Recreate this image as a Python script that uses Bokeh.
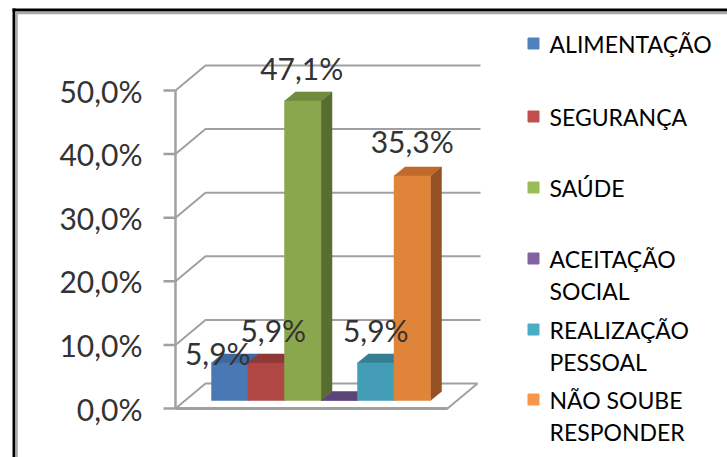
from bokeh.plotting import figure
from bokeh.models import Range1d
from bokeh.core.properties import value
from bokeh.embed import file_html
from bokeh.resources import INLINE

# ---------------- data ----------------
categories = ["ALIMENTAÇÃO", "SEGURANÇA", "SAÚDE", "ACEITAÇÃO\nSOCIAL",
              "REALIZAÇÃO\nPESSOAL", "NÃO SOUBE\nRESPONDER"]
values = [5.9, 5.9, 47.1, 0.0, 5.9, 35.3]
y_ticks = [0, 10, 20, 30, 40, 50]
y_tick_labels = ["0,0%", "10,0%", "20,0%", "30,0%", "40,0%", "50,0%"]

# ---------------- styles ----------------
front_colors = ["#4A78B4", "#B04744", "#8BA74E", "#6E5690", "#449DB6", "#E0843A"]
top_colors = ["#3F689E", "#8F3936", "#708B3D", "#5B4578", "#357F94", "#C0692A"]
side_colors = ["#2F4F78", "#6E2B2A", "#586E30", "#4A3862", "#2A6677", "#945124"]
legend_colors = ["#4F81BD", "#C0504D", "#9BBB59", "#8064A2", "#4BACC6", "#F79646"]
GRID = "#A0A0A0"
NUM_FONT = value("Lato")
LEG_FONT = value("Lato")

# ---------------- layout (screen px) ----------------
W, H = 727, 457
AXIS_X = 175          # front-left edge of the plot box
ZERO_PX = 408         # screen y of 0 % at the front
PX_PER_PCT = 6.36     # vertical scale
WALL_DX, WALL_DY = 30, 25
FLOOR_W = 272
BAR_W = 36.5
GAP = 26
BAR_FRONT_DX, BAR_FRONT_DY = 10, 8
BAR_DX, BAR_DY = 11, 9
label_dx = [-12, 7, -1, 0, 0, 0]
label_up = [10, 33, 33, 0, 33, 35]
legend_first_y = [43, 116, 187, 258, 329, 399]
LEG_LINE = 32
LEG_SQ_X, LEG_TXT_X = 533, 549


def pct(px):
    return px / PX_PER_PCT


def y_of(py):
    return (ZERO_PX - py) / PX_PER_PCT


p = figure(width=W, height=H, x_range=Range1d(0, W),
           y_range=Range1d(y_of(H), y_of(0)),
           output_backend="svg", toolbar_location=None,
           x_axis_location=None, y_axis_location=None, min_border=0)
p.grid.visible = False
p.outline_line_color = None
p.background_fill_color = "white"
p.border_fill_color = "white"

# outer frame
p.multi_line(xs=[[12, W], [13.5, 13.5]], ys=[[y_of(9.5), y_of(9.5)], [y_of(8), y_of(H)]],
             line_color="black", line_width=3)
p.multi_line(xs=[[15, W], [16, 16]], ys=[[y_of(12.5), y_of(12.5)], [y_of(11), y_of(H)]],
             line_color="#A8A8A8", line_width=2.5)

# back-wall gridlines and left-wall diagonals
dyw = pct(WALL_DY)
gx, gy = [], []
for t in y_ticks[1:]:
    gx.append([AXIS_X, AXIS_X + WALL_DX, AXIS_X + WALL_DX + FLOOR_W + 3])
    gy.append([t, t + dyw, t + dyw])
p.multi_line(xs=gx, ys=gy, line_color=GRID, line_width=2)

# floor
p.patch([AXIS_X, AXIS_X + FLOOR_W, AXIS_X + FLOOR_W + WALL_DX, AXIS_X + WALL_DX],
        [0, 0, dyw, dyw], fill_color="white", line_color=GRID, line_width=2)
p.line([AXIS_X, AXIS_X + FLOOR_W], [0, 0], line_color=GRID, line_width=3)

# front axis + ticks
p.line([AXIS_X, AXIS_X], [y_ticks[0], y_ticks[-1]], line_color=GRID, line_width=2.5)
p.multi_line(xs=[[AXIS_X - 12, AXIS_X] for _ in y_ticks], ys=[[t, t] for t in y_ticks],
             line_color=GRID, line_width=2.5)
p.text(x=[AXIS_X - 33] * len(y_ticks), y=y_ticks, text=y_tick_labels,
       text_font=NUM_FONT, text_font_size="30px", text_color="#333333",
       text_align="right", text_baseline="middle")

# bars (3-D faces)
fxs, fys, fcol = [], [], []
yb = pct(BAR_FRONT_DY)
dd = pct(BAR_DY)
for i, v in enumerate(values):
    x0 = AXIS_X + BAR_FRONT_DX + GAP + i * BAR_W
    x1 = x0 + BAR_W
    # side
    fxs.append([x1, x1 + BAR_DX, x1 + BAR_DX, x1])
    fys.append([yb, yb + dd, yb + v + dd, yb + v])
    fcol.append(side_colors[i])
    # top
    fxs.append([x0, x1, x1 + BAR_DX, x0 + BAR_DX])
    fys.append([yb + v, yb + v, yb + v + dd, yb + v + dd])
    fcol.append(top_colors[i])
    # front
    fxs.append([x0, x1, x1, x0])
    fys.append([yb, yb, yb + v, yb + v])
    fcol.append(front_colors[i])
p.patches(xs=fxs, ys=fys, fill_color=fcol, line_color=fcol, line_width=0.5)

# data labels
lx, ly, lt = [], [], []
for i, v in enumerate(values):
    if v == 0:
        continue
    cx = AXIS_X + BAR_FRONT_DX + GAP + (i + 0.5) * BAR_W
    lx.append(cx + label_dx[i])
    ly.append(v + yb + pct(label_up[i]))
    lt.append(f"{v:.1f}".replace(".", ",") + "%")
p.text(x=lx, y=ly, text=lt, text_font=NUM_FONT, text_font_size="30px",
       text_color="#333333", text_align="center", text_baseline="middle")

# legend
p.scatter(x=[LEG_SQ_X] * len(categories), y=[y_of(v) for v in legend_first_y],
          marker="square", size=11, fill_color=legend_colors, line_color=legend_colors)
tx, ty, tt = [], [], []
for i, c in enumerate(categories):
    for j, line in enumerate(c.split("\n")):
        tx.append(LEG_TXT_X)
        ty.append(y_of(legend_first_y[i] + j * LEG_LINE))
        tt.append(line)
p.text(x=tx, y=ty, text=tt, text_font=LEG_FONT, text_font_size="23px",
       text_color="black", text_align="left", text_baseline="middle")

open("out.html", "w").write(file_html(p, INLINE))
